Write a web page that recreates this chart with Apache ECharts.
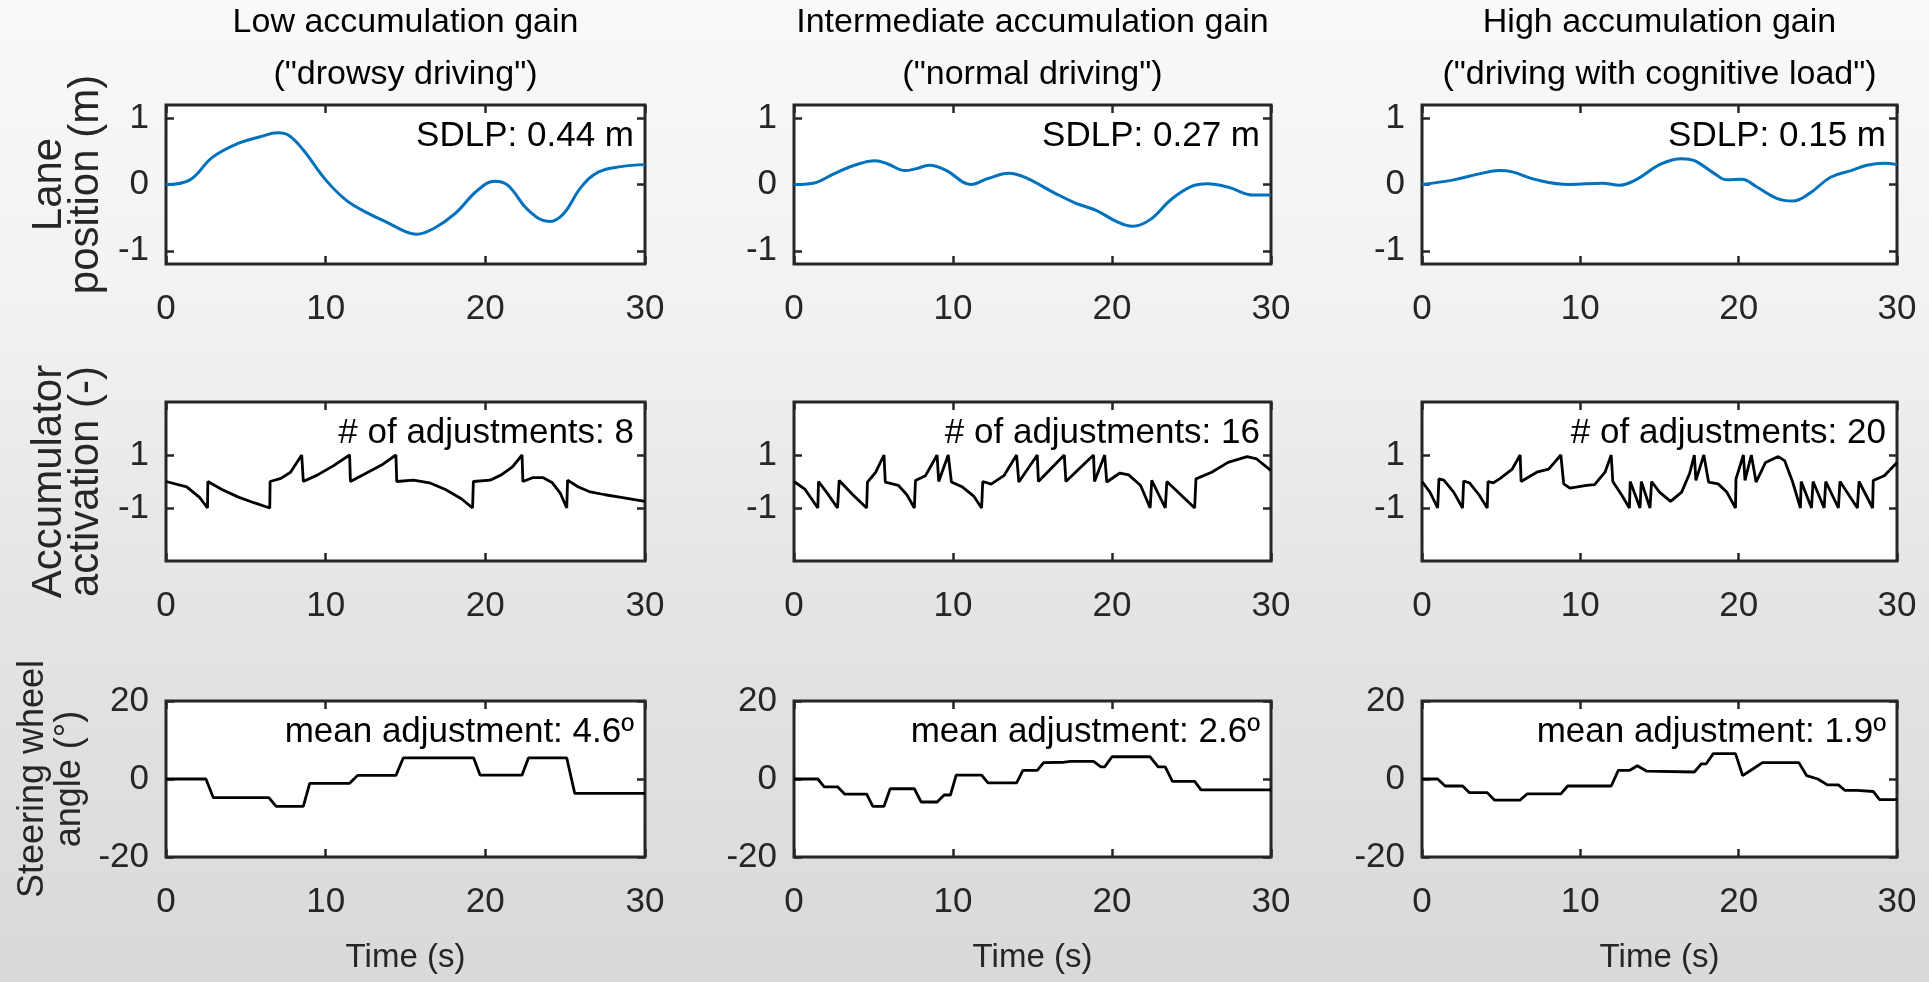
<!DOCTYPE html>
<html>
<head>
<meta charset="utf-8">
<script src="https://cdn.jsdelivr.net/npm/echarts@6/dist/echarts.min.js"></script>
<style>
  html, body { margin: 0; padding: 0; overflow: hidden; }
  #chart {
    width: 1929px; height: 982px;
    background: linear-gradient(180deg, #f9f9f9 0%, #f2f2f2 30%, #e5e5e5 60%, #d9d9d9 100%);
  }
</style>
</head>
<body>
<div id="chart"></div>
<script>
// ---------------- DATA ----------------
const columnTitles = [
  ['Low accumulation gain', '("drowsy driving")'],
  ['Intermediate accumulation gain', '("normal driving")'],
  ['High accumulation gain', '("driving with cognitive load")']
];
const rowNames = ['Lane\nposition (m)', 'Accumulator\nactivation (-)', 'Steering wheel\nangle (°)'];
const xName = 'Time (s)';
const xTicks = [0, 10, 20, 30];
const laneTicks = [-1, 0, 1];
const accTicks = [-1, 1];
const steerTicks = [-20, 0, 20];
const sdlpLabels = ['SDLP: 0.44 m', 'SDLP: 0.27 m', 'SDLP: 0.15 m'];
const adjCountLabels = ['# of adjustments: 8', '# of adjustments: 16', '# of adjustments: 20'];
const meanAdjLabels = ['mean adjustment: 4.6º', 'mean adjustment: 2.6º', 'mean adjustment: 1.9º'];

// lane position [time s, position m]
const laneLow = [[0,0],[1.5,0.07],[2.9,0.41],[4.5,0.62],[5.9,0.72],[7.0,0.78],[7.7,0.74],[8.6,0.52],[10,0.07],[11.3,-0.24],[12.7,-0.44],[14.0,-0.59],[15.0,-0.71],[15.7,-0.75],[16.8,-0.66],[18.1,-0.44],[19.5,-0.09],[20.6,0.05],[21.4,-0.01],[22.7,-0.39],[24.0,-0.56],[24.9,-0.44],[26.0,-0.04],[27.1,0.19],[28.5,0.27],[30,0.30]];
const laneMid = [[0,0],[1.2,0.02],[2.5,0.16],[3.8,0.29],[5.1,0.36],[5.9,0.31],[7.0,0.21],[7.7,0.24],[8.5,0.29],[9.6,0.21],[10.6,0.04],[11.1,0.0],[12.2,0.09],[13.5,0.17],[14.5,0.11],[16.4,-0.13],[17.7,-0.28],[19.0,-0.39],[20.3,-0.56],[21.3,-0.63],[22.4,-0.53],[23.7,-0.23],[25.0,-0.03],[26.0,0.01],[27.3,-0.04],[28.9,-0.16],[30,-0.16]];
const laneHigh = [[0,0],[2.0,0.07],[3.6,0.16],[4.9,0.21],[5.7,0.19],[7.25,0.07],[9.3,0.0],[11.4,0.02],[12.5,-0.01],[13.5,0.07],[15.1,0.31],[16.4,0.39],[17.2,0.36],[18.5,0.16],[19.25,0.07],[20.2,0.08],[21.1,-0.03],[22.4,-0.21],[23.4,-0.25],[24.5,-0.13],[25.8,0.11],[27.1,0.21],[28.1,0.29],[29.2,0.32],[30,0.30]];

// accumulator activation [time s, activation]
const accLow = [[0,0],[1.3,-0.2],[2.1,-0.6],[2.6,-1],[2.62,0],[3.5,-0.3],[4.5,-0.58],[5.5,-0.8],[6.5,-1],[6.52,0],[7.2,0.12],[7.8,0.35],[8.5,1],[8.6,0],[9.5,0.25],[10.5,0.6],[11.5,1],[11.55,0],[12.5,0.3],[13.5,0.62],[14.4,1],[14.45,0],[15.5,0.05],[16.5,-0.05],[17.5,-0.3],[18.5,-0.65],[19.2,-1],[19.25,0],[20.3,0.05],[21.0,0.25],[21.7,0.55],[22.3,1],[22.35,0],[23.0,0.15],[23.6,0.15],[24.2,-0.05],[24.7,-0.45],[25.1,-1],[25.15,0.05],[25.8,-0.2],[26.5,-0.38],[27.5,-0.5],[28.5,-0.6],[30,-0.75]];
const accMid = [[0,0],[0.7,-0.3],[1.5,-1],[1.54,0],[2.1,-0.45],[2.74,-1],[2.84,0.04],[3.7,-0.5],[4.57,-1],[4.62,-0.02],[5.14,0.35],[5.66,1],[5.74,-0.02],[6.57,-0.15],[7.1,-0.5],[7.57,-1],[7.64,0.04],[8.27,0.22],[9.0,1],[9.1,0],[9.7,1],[9.9,-0.02],[10.6,-0.21],[11.3,-0.55],[11.8,-1],[11.87,0],[12.4,-0.1],[13.2,0.22],[14.0,1],[14.14,-0.02],[15.3,1],[15.37,0],[17.0,1],[17.1,0],[18.84,1],[18.9,0],[19.54,1],[19.67,-0.02],[20.5,0.32],[21.05,0.25],[21.8,-0.15],[22.4,-1],[22.5,0.04],[23.35,-1],[23.45,0],[25.2,-1],[25.28,0.1],[26.27,0.35],[27.3,0.72],[28.5,0.94],[29.1,0.85],[30,0.41]];
const accHigh = [[0,0],[0.5,-0.4],[0.99,-1],[1.07,0.1],[1.38,0.05],[2.0,-0.4],[2.56,-1],[2.63,0.02],[3.0,-0.05],[3.6,-0.5],[4.12,-1],[4.17,0],[4.5,-0.05],[4.9,0.1],[5.7,0.47],[6.2,1],[6.26,0],[7.25,0.35],[8.0,0.47],[8.77,1],[8.95,-0.09],[9.34,-0.25],[10.4,-0.15],[10.9,-0.12],[11.56,0.35],[11.95,1],[12.05,0],[12.6,-0.5],[13.1,-1],[13.15,0],[13.77,-1],[13.85,0],[14.4,-1],[14.5,0],[15.0,-0.4],[15.7,-0.75],[16.4,-0.4],[16.9,0.3],[17.2,1],[17.3,0.04],[17.8,1],[18.1,-0.02],[18.7,-0.09],[19.25,-0.4],[19.8,-1],[19.83,0.1],[20.3,1],[20.4,0.04],[20.8,1],[21.1,-0.02],[21.7,0.72],[22.5,0.94],[22.9,0.79],[23.4,0],[23.9,-1],[23.95,0],[24.6,-1],[24.7,0],[25.4,-1],[25.5,0],[26.3,-1],[26.4,0],[27.5,-1],[27.6,0],[28.46,-1],[28.5,0.04],[29.2,0.22],[30,0.72]];

// steering wheel angle [time s, degrees]
const steerLow = [[0,0],[2.5,0],[2.96,-4.75],[6.44,-4.75],[6.9,-7.0],[8.6,-7.0],[9.0,-1.1],[11.5,-1.1],[12.0,0.93],[14.4,0.93],[14.86,5.4],[19.27,5.4],[19.67,1.0],[22.3,1.0],[22.7,5.4],[25.1,5.4],[25.6,-3.7],[30,-3.7]];
const steerMid = [[0,0],[1.5,0],[1.9,-2.0],[2.74,-2.0],[3.2,-3.9],[4.57,-3.9],[4.96,-7.0],[5.66,-7.0],[6.05,-2.5],[7.57,-2.5],[8.0,-5.9],[9.0,-5.9],[9.44,-4.1],[9.84,-4.1],[10.2,1.0],[11.8,1.0],[12.2,-1.0],[14.0,-1.0],[14.4,2.2],[15.3,2.2],[15.7,4.2],[17.0,4.3],[17.4,4.5],[18.84,4.5],[19.3,3.1],[19.54,3.1],[20.0,5.7],[22.4,5.7],[22.9,3.1],[23.35,3.1],[23.8,-0.6],[25.2,-0.6],[25.6,-2.8],[30,-2.8]];
const steerHigh = [[0,0],[0.99,0],[1.46,-1.8],[2.56,-1.8],[3.0,-3.5],[4.12,-3.5],[4.57,-5.4],[6.2,-5.4],[6.65,-3.8],[8.77,-3.8],[9.2,-1.8],[11.95,-1.8],[12.4,2.2],[13.1,2.2],[13.6,3.4],[14.2,2.0],[17.2,1.8],[17.65,3.9],[17.95,3.9],[18.4,6.5],[19.8,6.5],[20.25,0.85],[20.8,2.3],[21.5,4.2],[23.8,4.2],[24.3,0.85],[25.0,0],[25.6,-1.5],[26.3,-1.5],[26.7,-2.9],[27.5,-2.9],[28.5,-3.2],[28.9,-5.3],[30,-5.3]];

// ---------------- LAYOUT ----------------
const FONT = '"Liberation Sans", Arial, Helvetica, sans-serif';
const INK = '#262626';
const FS = { tick: 35, title: 34, note: 35, xname: 33 };
const colLeft = [166, 794, 1422];
const plotW = [479, 477, 475];
const rowTop = [105, 402, 701];
const plotH = [159, 159, 156];

const rows = [
  { data: [laneLow, laneMid, laneHigh], min: -1.2, max: 1.2, ticks: laneTicks, color: '#0072BD', width: 3, smooth: 0.4, notes: sdlpLabels, nameGap: 61, nameFs: 42, nameLh: 37 },
  { data: [accLow, accMid, accHigh], min: -3, max: 3, ticks: accTicks, color: '#000000', width: 2.8, smooth: false, notes: adjCountLabels, nameGap: 61, nameFs: 42, nameLh: 37 },
  { data: [steerLow, steerMid, steerHigh], min: -20, max: 20, ticks: steerTicks, color: '#000000', width: 2.8, smooth: false, notes: meanAdjLabels, nameGap: 77, nameFs: 36, nameLh: 37 }
];

const grid = [], xAxis = [], yAxis = [], series = [], graphic = [];
const tickStyle = { inside: true, length: 8, lineStyle: { color: INK, width: 2.5 } };
const labelStyle = { fontSize: FS.tick, color: INK, fontFamily: FONT };

rows.forEach((row, r) => {
  for (let c = 0; c < 3; c++) {
    const idx = r * 3 + c;
    grid.push({ left: colLeft[c], top: rowTop[r], width: plotW[c], height: plotH[r],
      show: true, backgroundColor: '#ffffff', borderColor: INK, borderWidth: 3 });
    const xBase = { gridIndex: idx, type: 'value', min: 0, max: 30, interval: 10,
      axisLine: { show: false, onZero: false }, splitLine: { show: false },
      axisTick: Object.assign({ customValues: xTicks }, tickStyle) };
    xAxis.push(Object.assign({}, xBase, { position: 'bottom',
      axisLabel: Object.assign({ margin: 28, customValues: xTicks }, labelStyle),
      name: r === 2 ? xName : '', nameLocation: 'middle', nameGap: 84,
      nameTextStyle: { fontSize: FS.xname, color: INK, fontFamily: FONT } }));
    xAxis.push(Object.assign({}, xBase, { position: 'top', axisLabel: { show: false } }));
    const yBase = { gridIndex: idx, type: 'value', min: row.min, max: row.max,
      axisLine: { show: false, onZero: false }, splitLine: { show: false },
      axisTick: Object.assign({ customValues: row.ticks }, tickStyle) };
    yAxis.push(Object.assign({}, yBase, { position: 'left',
      axisLabel: Object.assign({ margin: 17, customValues: row.ticks }, labelStyle),
      name: c === 0 ? rowNames[r] : '', nameLocation: 'middle', nameRotate: 90, nameGap: row.nameGap,
      nameTextStyle: { fontSize: row.nameFs, lineHeight: row.nameLh, color: INK, fontFamily: FONT } }));
    yAxis.push(Object.assign({}, yBase, { position: 'right', axisLabel: { show: false } }));
    series.push({ type: 'line', xAxisIndex: idx * 2, yAxisIndex: idx * 2, data: row.data[c],
      showSymbol: false, symbol: 'none', smooth: row.smooth,
      lineStyle: { width: row.width, color: row.color }, itemStyle: { color: row.color },
      animation: false, z: 3 });
    graphic.push({ type: 'text', z: 10,
      x: colLeft[c] + plotW[c] - 11, y: rowTop[r] + 31,
      style: { text: row.notes[c], font: FS.note + 'px ' + FONT, fill: '#000',
        textAlign: 'right', textVerticalAlign: 'middle', align: 'right', verticalAlign: 'middle' } });
  }
});

columnTitles.forEach((lines, c) => {
  const cx = colLeft[c] + plotW[c] / 2;
  [23, 75].forEach((y, i) => {
    graphic.push({ type: 'text', z: 10, x: cx, y: y,
      style: { text: lines[i], font: FS.title + 'px ' + FONT, fill: '#000',
        textAlign: 'center', textVerticalAlign: 'middle', align: 'center', verticalAlign: 'middle' } });
  });
});

const chart = echarts.init(document.getElementById('chart'), null, { renderer: 'canvas' });
chart.setOption({
  backgroundColor: 'transparent',
  animation: false,
  grid, xAxis, yAxis, series, graphic
});
</script>
</body>
</html>
